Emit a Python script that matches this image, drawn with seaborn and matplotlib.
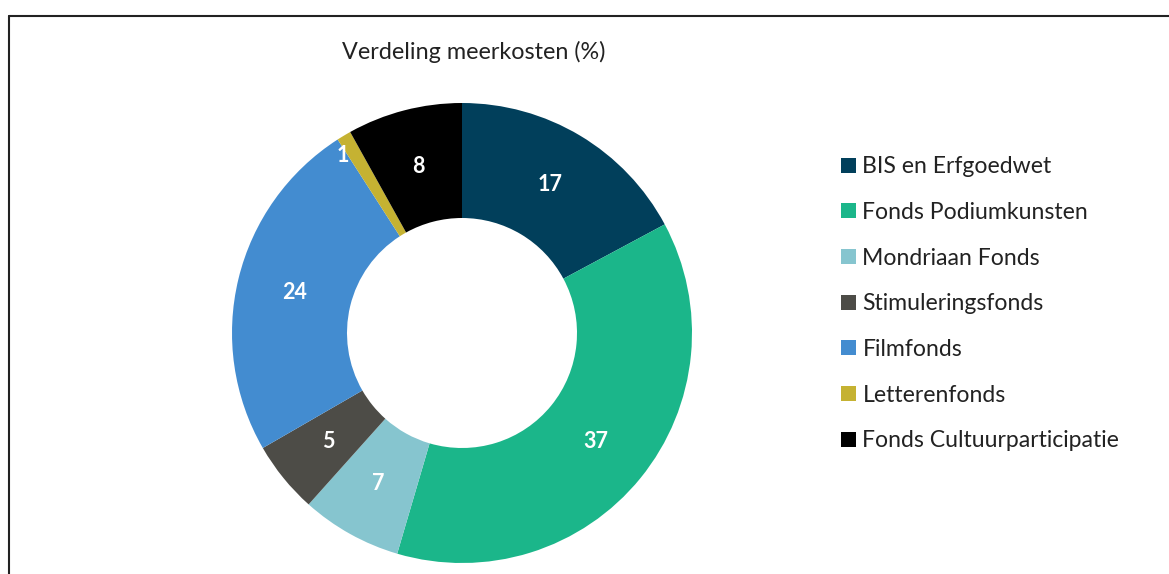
import numpy as np
import matplotlib.pyplot as plt
import seaborn as sns
from matplotlib.lines import Line2D

# Gegevens
categorieen = ["BIS en Erfgoedwet", "Fonds Podiumkunsten", "Mondriaan Fonds",
               "Stimuleringsfonds", "Filmfonds", "Letterenfonds",
               "Fonds Cultuurparticipatie"]
waarden = [17, 37, 7, 5, 24, 1, 8]
kleuren = ["#013F5B", "#1BB68A", "#86C5CF", "#4D4C47", "#438CD0", "#C5B232", "#000000"]

sns.set_theme(style="white")
plt.rcParams['font.family'] = ['Lato', 'DejaVu Sans']

fig = plt.figure(figsize=(11.69, 5.74), dpi=100)
W, H = 1169, 574
cx, cy, r = 462, 333, 230
ax = fig.add_axes([(cx - r) / W, (H - cy - r) / H, 2 * r / W, 2 * r / H])

palet = sns.color_palette(kleuren)
wedges, _ = ax.pie(waarden, colors=palet, startangle=90, counterclock=False,
                   radius=1, wedgeprops=dict(width=0.5, linewidth=0))
ax.set_xlim(-1, 1)
ax.set_ylim(-1, 1)
ax.set_aspect('equal')
ax.axis('off')

# Labels in de ring
totaal = sum(waarden)
cum = 0
for i, v in enumerate(waarden):
    hoek = np.deg2rad(90 - 360 * (cum + v / 2) / totaal)
    cum += v
    afstand = 0.75
    if v == 1:
        afstand = 0.93
        hoek = np.deg2rad(124)
    ax.text(afstand * np.cos(hoek), afstand * np.sin(hoek), f"{v}",
            ha='center', va='center', color='white', fontsize=15.5, fontweight='bold')

fig.text(474 / W, 1 - 52 / H, "Verdeling meerkosten (%)", ha='center', va='center',
         fontsize=16.8, color='#222222')

leg = fig.legend(wedges, categorieen, loc='upper left',
                 bbox_to_anchor=(832 / W, 1 - 147 / H), frameon=False,
                 fontsize=16.6, handlelength=0.62, handleheight=0.62,
                 handletextpad=0.3, labelspacing=1.07, borderaxespad=0)
for t in leg.get_texts():
    t.set_color('#222222')

# Kader (links en boven)
fig.add_artist(Line2D([9 / W, 9 / W], [0, 1 - 16 / H], color='#222222', lw=1.5))
fig.add_artist(Line2D([9 / W, 1], [1 - 16 / H, 1 - 16 / H], color='#222222', lw=1.5))

fig.savefig("out.png", dpi=100)
